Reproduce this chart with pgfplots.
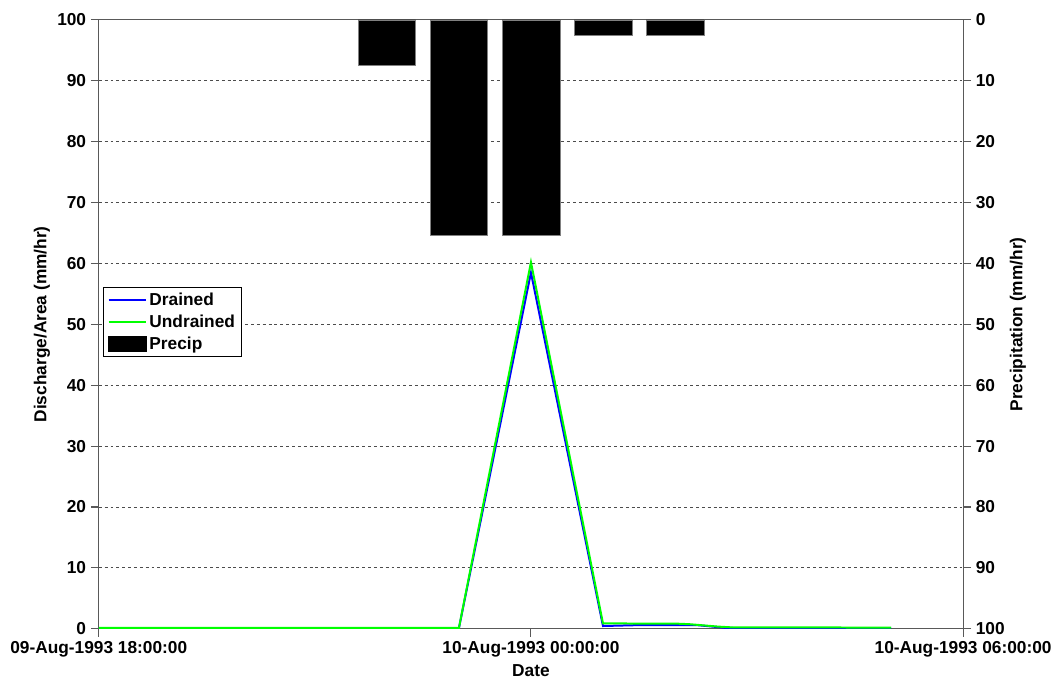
\documentclass[border=0pt]{standalone}
\usepackage{fontspec}
\setmainfont{Liberation Sans}
\usepackage{pgfplots}
\pgfplotsset{compat=1.18}
\begin{document}
\begin{tikzpicture}[font=\fontsize{13}{15}\selectfont\bfseries]
\pgfplotsset{
  common/.style={
    scale only axis, width=649.5pt, height=457.5pt,
    xmin=0, xmax=12, ymin=0, ymax=100,
    /pgf/number format/assume math mode=true,
    ticklabel style={font=\fontsize{13}{15}\selectfont\bfseries},
    label style={font=\fontsize{13}{15}\selectfont\bfseries},
    tick align=outside,
    major tick length=6pt,
    tick style={gray!70!black, line width=0.8pt},
    axis line style={gray!70!black, line width=0.8pt},
    ytick={0,10,...,100},
  }
}
\begin{axis}[common, name=ax,
  xtick={0,6,12},
  xticklabels={09-Aug-1993 18:00:00, 10-Aug-1993 00:00:00, 10-Aug-1993 06:00:00},
  xtick pos=bottom, ytick pos=left,
  ymajorgrids,
  grid style={gray!60!black, line width=0.7pt, dash pattern=on 2.2pt off 2.2pt},
  xlabel={Date},
  ylabel={Discharge/Area (mm/hr)},
  xlabel style={at={(axis description cs:0.5,-0.069)}, anchor=center},
  ylabel style={at={(axis description cs:-0.0658,0.5)}, anchor=center},
]
\addplot[blue, line width=1.5pt] coordinates {
  (0,0.1) (5,0.1) (6,58.5) (7,0.45) (7.5,0.6) (8.3,0.6) (8.5,0.38) (8.7,0.15) (8.9,0.1) (11,0.1)
};
\addplot[green, line width=1.5pt] coordinates {
  (0,0.15) (5,0.15) (6,60.2) (7,0.87) (8,0.85) (8.2,0.75) (8.4,0.55) (8.6,0.35) (8.8,0.22) (11,0.2)
};
\end{axis}
\begin{axis}[common,
  axis x line=none, axis y line*=right,
  y dir=reverse,
  ylabel={Precipitation (mm/hr)},
  ylabel style={at={(axis description cs:1.0635,0.5)}, anchor=center},
  legend style={at={(axis description cs:0.005,0.561)}, anchor=north west,
    draw=black, line width=0.6pt, font=\fontsize{13}{15}\selectfont\bfseries,
    inner xsep=3pt, inner ysep=2pt, row sep=1.5pt},
  legend cell align=left,
]
\addlegendimage{legend image code/.code={\draw[blue, line width=1.5pt] (0pt,0pt) -- (28pt,0pt);}}
\addlegendentry{Drained}
\addlegendimage{legend image code/.code={\draw[green, line width=1.5pt] (0pt,0pt) -- (28pt,0pt);}}
\addlegendentry{Undrained}
\addplot[ybar, bar width=0.8, bar shift=0pt, fill=black, draw=gray, line width=0.4pt,
  legend image code/.code={\fill[black] (0pt,-5.5pt) rectangle (28pt,5.5pt);}]
  coordinates {(4,7.5) (5,35.4) (6,35.4) (7,2.5) (8,2.5)};
\addlegendentry{Precip}
\end{axis}
\path ([shift={(-74.25pt,-38.25pt)}]ax.south west) rectangle ([shift={(68.25pt,15pt)}]ax.north east);
\end{tikzpicture}
\end{document}
